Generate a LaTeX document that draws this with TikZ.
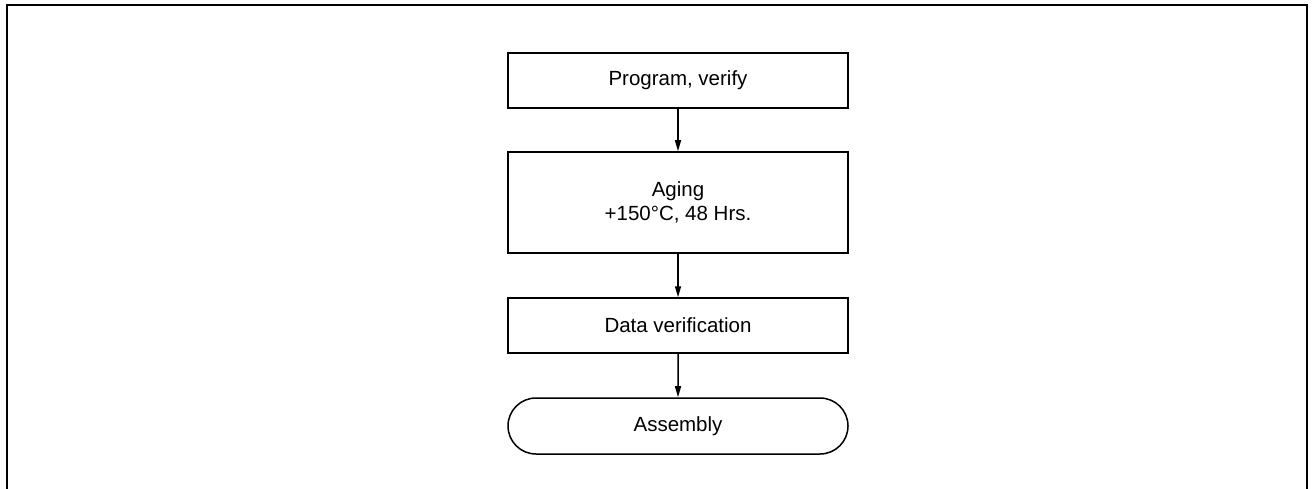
\documentclass[tikz,border=0pt]{standalone}
\usepackage{fontspec}
\setmainfont{Liberation Sans}
\usetikzlibrary{arrows.meta,shapes.misc}
\begin{document}
\begin{tikzpicture}[x=1pt,y=-1pt,
  every node/.style={font=\fontsize{20.5}{24}\selectfont},
  procbox/.style={draw,line width=1.5pt,minimum width=340pt,align=center,inner sep=0pt},
  termbox/.style={draw,line width=1.5pt,rounded rectangle,minimum width=340pt,minimum height=56pt,inner sep=0pt},
  flow/.style={line width=1.5pt,-{Triangle[length=11pt,width=6pt]}}]
\useasboundingbox (0,0) rectangle (1313,489);
\draw[line width=2pt] (6.5,489) -- (6.5,5.5) -- (1307,5.5) -- (1307,489);
\node[procbox,minimum height=55pt] (p) at (678,80.5) {Program, verify};
\node[procbox,minimum height=101pt] (a) at (678,202.5) {Aging\\+150°C, 48 Hrs.};
\node[procbox,minimum height=55pt] (d) at (678,325.5) {Data verification};
\node[termbox] (s) at (678,426) {Assembly};
\draw[flow] (p) -- (a);
\draw[flow] (a) -- (d);
\draw[flow] (d) -- (s);
\end{tikzpicture}
\end{document}
